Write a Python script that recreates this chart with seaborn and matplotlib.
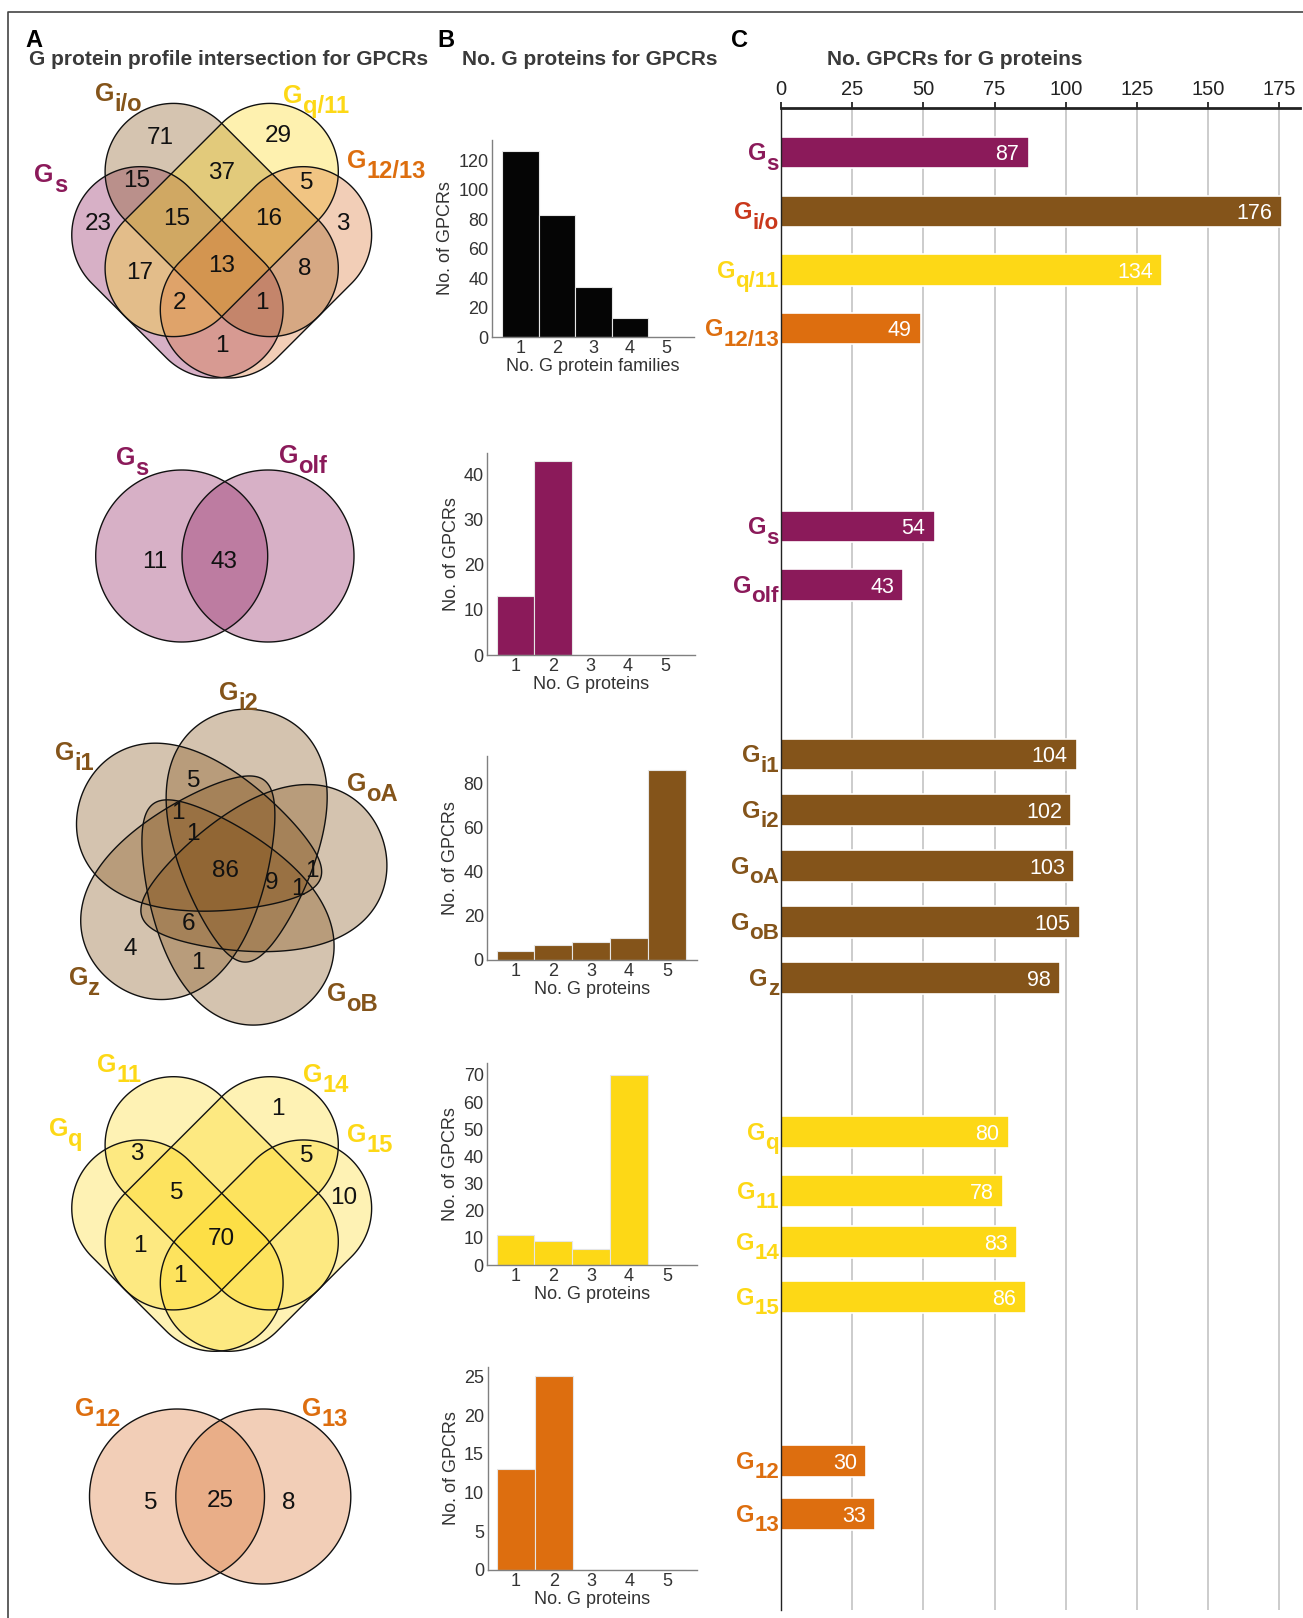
import numpy as np
import pandas as pd
import matplotlib
matplotlib.use("Agg")
import matplotlib.pyplot as plt
from matplotlib.patches import Polygon
from matplotlib.lines import Line2D
from matplotlib.font_manager import FontProperties
from matplotlib.transforms import ScaledTranslation, blended_transform_factory
import seaborn as sns

sns.set_theme(style="white")
plt.rcParams["font.family"] = ["Liberation Sans", "DejaVu Sans"]

W, H, DPI = 1303, 1618, 100
PT = DPI / 72.0  # pixels per point

# ---------------------------------------------------------------- colours
PURPLE = "#8B1A5A"
BROWN = "#84541A"
YELLOW = "#FDD816"
ORANGE = "#DD6E0F"
RED = "#C9381C"
VENN_ORANGE = "#D9722E"
DARK = "#333333"

# ---------------------------------------------------------------- data
# Panel A – counts per Venn region (None = empty region)
# four-set order: B only, C only, AB, BC, CD, A only, ABC, BCD, D only, AC, ABCD, BD, ACD, ABD, AD
FAM_SUBS = ["s", "i/o", "q/11", "12/13"]
FAM_COUNTS = [71, 29, 15, 37, 5, 23, 15, 16, 3, 17, 13, 8, 2, 1, 1]
GQ_SUBS = ["q", "11", "14", "15"]
GQ_COUNTS = [None, 1, 3, None, 5, None, 5, None, 10, 1, 70, None, 1, None, None]
GS_SUBS = ["s", "olf"]
GS_COUNTS = [11, 43]
GI_SUBS = ["i1", "i2", "oA", "oB", "z"]
GI_COUNTS = [5, 1, 1, 86, 9, 1, 1, 6, 4, 1]
G12_SUBS = ["12", "13"]
G12_COUNTS = [5, 25, 8]

# Panel B – number of GPCRs by number of coupled G proteins
N_SHARED = ["1", "2", "3", "4", "5"]
HIST_FAMILY = [126, 83, 34, 13, 0]
HIST_GS = [13, 43, 0, 0, 0]
HIST_GI = [4, 7, 8, 10, 86]
HIST_GQ = [11, 9, 6, 70, 0]
HIST_G12 = [13, 25, 0, 0, 0]

# Panel C – number of GPCRs per G protein
C_SUBS = ["s", "i/o", "q/11", "12/13", "s", "olf", "i1", "i2", "oA", "oB", "z",
          "q", "11", "14", "15", "12", "13"]
C_COUNTS = [87, 176, 134, 49, 54, 43, 104, 102, 103, 105, 98, 80, 78, 83, 86, 30, 33]
C_BAR_COLORS = [PURPLE, BROWN, YELLOW, ORANGE, PURPLE, PURPLE] + [BROWN] * 5 + [YELLOW] * 4 + [ORANGE] * 2
C_LABEL_COLORS = [PURPLE, RED, YELLOW, ORANGE, PURPLE, PURPLE] + [BROWN] * 5 + [YELLOW] * 4 + [ORANGE] * 2

# ---------------------------------------------------------------- layout
C_ROWS = [152.5, 211.5, 270, 328.5, 526.5, 585, 754.5, 810, 866, 922, 978,
          1131.8, 1191.2, 1242, 1296.9, 1460.8, 1514.1]
C_BAR_H = 31.5

FOUR_CENTRES = [(221.7, 220.0), (221.7, 1193.3)]
LATTICE = 48.3
CAPSULE_ENDS = [((-1.69, 0.31), (-0.143, 1.857)),
                ((-1.0, -1.0), (1.0, 1.0)),
                ((1.0, -1.0), (-1.0, 1.0)),
                ((1.69, 0.31), (0.143, 1.857))]
FOUR_SPOTS = [(-61.7, -85), (56.6, -86.7), (-85, -41.7), (0, -50), (85, -40),
              (-123.4, 1.7), (-45, -3.3), (46.6, -3.3), (121.6, 1.7), (-81.7, 50),
              (0, 43.3), (83.3, 46.7), (-41.7, 80), (40, 80), (0, 123.3)]
FAM_LABEL_POS = [(50.8, 178), (119, 97.5), (316, 99), (386, 164)]
GQ_LABEL_POS = [(65.8, 1131.7), (119.2, 1068.3), (325.8, 1078.3), (370, 1138.3)]

# five-set diagram: egg-shaped sets arranged with five-fold symmetry
FIVE_CENTRE = (225.0, 868.0)
EGG_FAT_DIST, EGG_FAT_R = 80.8, 81.0
EGG_NARROW_DIST, EGG_NARROW_R = 72.0, 25.0
EGG_FIRST_ANGLE, EGG_TWIST = 146.4, 148.0
EGG_B, EGG_C = 76.0, 28.0
GI_SPOTS = [(193.3, 778.3), (178.3, 810), (193.3, 831.7), (225, 868.3), (271.7, 880),
            (311.7, 868.3), (298.3, 886.7), (188.3, 921.7), (130, 946.7), (198.3, 960)]
GI_LABEL_POS = [(74.2, 755.8), (238.3, 695.8), (372.5, 786.7), (352.5, 997.5), (84.2, 980.8)]

GS_CIRCLES = [((181.7, 556), 86), ((268, 556), 86)]
GS_SPOTS = [(155, 559), (224, 559)]
GS_LABEL_POS = [(132.5, 461), (303, 459)]
G12_CIRCLES = [((177, 1496.5), 87.5), ((263.3, 1496.5), 87.5)]
G12_SPOTS = [(150.6, 1500), (220, 1498), (289, 1500)]
G12_LABEL_POS = [(97.5, 1412), (325, 1412)]

HIST_RECTS = [(492, 140, 694, 337), (487.3, 453.3, 695, 655), (487.3, 756, 696.7, 960),
              (487.3, 1062.7, 696.7, 1265), (487.5, 1367, 697, 1570)]

VENN_LABEL_SIZE = 18
AXIS_LABEL_SIZE = 17

fig = plt.figure(figsize=(W / DPI, H / DPI), dpi=DPI, facecolor="white")
renderer = fig.canvas.get_renderer()


def px_axes(left, top, right, bottom):
    return fig.add_axes([left / W, 1 - bottom / H, (right - left) / W, (bottom - top) / H])


ov = fig.add_axes([0, 0, 1, 1])
ov.set_xlim(0, W)
ov.set_ylim(H, 0)
ov.axis("off")

SUB_SCALE = 0.95
SUB_DROP = 0.40


def g_label(ax, x, y, sub, color, size, transform=None, ha="center"):
    """Bold 'G' followed by a lowered, nearly full-size subscript."""
    if transform is None:
        transform = ax.transData
    pg = FontProperties(family="Liberation Sans", weight="bold", size=size)
    ps = FontProperties(family="Liberation Sans", weight="bold", size=size * SUB_SCALE)
    wg = renderer.get_text_width_height_descent("G", pg, ismath=False)[0]
    ws = renderer.get_text_width_height_descent(sub, ps, ismath=False)[0]
    total = wg + ws
    x0 = -total / 2 if ha == "center" else -total
    cap = 0.716 * size * PT
    drop = SUB_DROP * size * PT
    base = -(cap - drop) / 2

    def shifted(dx, dy):
        return transform + ScaledTranslation(dx / DPI, dy / DPI, fig.dpi_scale_trans)

    ax.text(x, y, "G", fontproperties=pg, color=color, ha="left", va="baseline",
            transform=shifted(x0, base))
    ax.text(x, y, sub, fontproperties=ps, color=color, ha="left", va="baseline",
            transform=shifted(x0 + wg, base - drop))


def count_text(ax, x, y, value, size=17.5, color="#111111", ha="center"):
    if value is None:
        return
    ax.text(x, y + 0.358 * size * PT, str(value), ha=ha, va="baseline",
            fontsize=size, color=color)


def capsule(p1, p2, r, n=90):
    p1, p2 = np.asarray(p1, float), np.asarray(p2, float)
    d = p2 - p1
    th = np.arctan2(d[1], d[0])
    t1 = np.linspace(th + np.pi / 2, th + 3 * np.pi / 2, n)
    t2 = np.linspace(th - np.pi / 2, th + np.pi / 2, n)
    a1 = p1 + r * np.c_[np.cos(t1), np.sin(t1)]
    a2 = p2 + r * np.c_[np.cos(t2), np.sin(t2)]
    return np.vstack([a1, a2])


def egg(k, n=360):
    """Egg outline: broad lobe outside, narrow tip reaching across the centre."""
    cx, cy = FIVE_CENTRE
    phi = np.radians(EGG_FIRST_ANGLE - 72.0 * k)
    psi = phi - np.radians(EGG_TWIST)
    fat = np.array([cx + EGG_FAT_DIST * np.cos(phi), cy - EGG_FAT_DIST * np.sin(phi)])
    nar = np.array([cx + EGG_NARROW_DIST * np.cos(psi), cy - EGG_NARROW_DIST * np.sin(psi)])
    e = (fat - nar) / np.linalg.norm(fat - nar)
    tip_f = fat + EGG_FAT_R * e
    tip_n = nar - EGG_NARROW_R * e
    mid = (tip_f + tip_n) / 2
    half = np.linalg.norm(tip_f - tip_n) / 2
    nrm = np.array([-e[1], e[0]])
    t = np.linspace(0, 2 * np.pi, n)
    along = -half * np.cos(t)
    across = (EGG_B - EGG_C * np.cos(t)) * np.sin(t)
    return mid + np.outer(along, e) + np.outer(across, nrm)


def draw_shapes(shapes, colors, alpha=0.34):
    for pts, c in zip(shapes, colors):
        ov.add_patch(Polygon(pts, closed=True, facecolor=c, alpha=alpha, edgecolor="none"))
    for pts in shapes:
        ov.add_patch(Polygon(pts, closed=True, fill=False, edgecolor="#111111", lw=1.0))


def circle_pts(c, r, n=240):
    t = np.linspace(0, 2 * np.pi, n)
    return np.c_[c[0] + r * np.cos(t), c[1] + r * np.sin(t)]


# ---------------------------------------------------------------- frame & headings
ov.add_line(Line2D([8, 8, W], [H, 12, 12], color="#444444", lw=1.2))
for letter, x in [("A", 33.5), ("B", 445.5), ("C", 740)]:
    ov.text(x, 38.5 + 0.358 * 17 * PT, letter, fontsize=17, fontweight="bold",
            color="black", ha="center", va="baseline")
for title, x in [("G protein profile intersection for GPCRs", 228.3),
                 ("No. G proteins for GPCRs", 590),
                 ("No. GPCRs for G proteins", 955)]:
    ov.text(x, 58 + 0.358 * 15 * PT, title, fontsize=15, fontweight="bold",
            color="#3a3a3a", ha="center", va="baseline")

# ---------------------------------------------------------------- panel A
fam_fill = [PURPLE, BROWN, YELLOW, VENN_ORANGE]
fam_text = [PURPLE, BROWN, YELLOW, ORANGE]
for (cx, cy), counts, subs, fills, tcols, lpos in [
        (FOUR_CENTRES[0], FAM_COUNTS, FAM_SUBS, fam_fill, fam_text, FAM_LABEL_POS),
        (FOUR_CENTRES[1], GQ_COUNTS, GQ_SUBS, [YELLOW] * 4, [YELLOW] * 4, GQ_LABEL_POS)]:
    shapes = []
    for e1, e2 in CAPSULE_ENDS:
        p1 = (cx + e1[0] * LATTICE, cy + e1[1] * LATTICE)
        p2 = (cx + e2[0] * LATTICE, cy + e2[1] * LATTICE)
        shapes.append(capsule(p1, p2, LATTICE * np.sqrt(2)))
    draw_shapes(shapes, fills, alpha=0.34 if fills[0] != YELLOW else 0.32)
    for (dx, dy), v in zip(FOUR_SPOTS, counts):
        count_text(ov, cx + dx, cy + dy, v)
    for (lx, ly), s, c in zip(lpos, subs, tcols):
        g_label(ov, lx, ly, s, c, VENN_LABEL_SIZE)

# two-set diagrams
for circles, counts, spots, subs, lpos, fill, tcol in [
        (GS_CIRCLES, GS_COUNTS, GS_SPOTS, GS_SUBS, GS_LABEL_POS, PURPLE, PURPLE),
        (G12_CIRCLES, G12_COUNTS, G12_SPOTS, G12_SUBS, G12_LABEL_POS, VENN_ORANGE, ORANGE)]:
    draw_shapes([circle_pts(c, r) for c, r in circles], [fill, fill])
    for (x, y), v in zip(spots, counts):
        count_text(ov, x, y, v)
    for (lx, ly), s in zip(lpos, subs):
        g_label(ov, lx, ly, s, tcol, VENN_LABEL_SIZE)

# five-set diagram
draw_shapes([egg(k) for k in range(5)], [BROWN] * 5, alpha=0.35)
for (x, y), v in zip(GI_SPOTS, GI_COUNTS):
    count_text(ov, x, y, v)
for (lx, ly), s in zip(GI_LABEL_POS, GI_SUBS):
    g_label(ov, lx, ly, s, BROWN, VENN_LABEL_SIZE)

# ---------------------------------------------------------------- panel B
hist_specs = [
    (HIST_FAMILY, "#050505", 133.6, range(0, 121, 20), "No. G protein families", (-0.774, 4.76)),
    (HIST_GS, PURPLE, 44.8, range(0, 41, 10), "No. G proteins", (-0.748, 4.79)),
    (HIST_GI, BROWN, 92.3, range(0, 81, 20), "No. G proteins", (-0.748, 4.79)),
    (HIST_GQ, YELLOW, 74.5, range(0, 71, 10), "No. G proteins", (-0.748, 4.79)),
    (HIST_G12, ORANGE, 26.2, range(0, 26, 5), "No. G proteins", (-0.748, 4.79)),
]
for rect, (vals, col, ymax, yt, xlab, xl) in zip(HIST_RECTS, hist_specs):
    ax = px_axes(*rect)
    df = pd.DataFrame({"n": N_SHARED, "count": vals})
    sns.barplot(data=df, x="n", y="count", color=col, saturation=1, width=1.0,
                errorbar=None, edgecolor="#e6e6e6", linewidth=0.8, ax=ax)
    ax.set_xlim(*xl)
    ax.set_ylim(0, ymax)
    ax.set_yticks(list(yt))
    sns.despine(ax=ax)
    for s in ("left", "bottom"):
        ax.spines[s].set_color("#808080")
        ax.spines[s].set_linewidth(1.0)
    ax.tick_params(length=0, labelsize=13, colors=DARK)
    ax.tick_params(axis="y", pad=2.5)
    ax.tick_params(axis="x", pad=2.5)
    ax.set_xlabel(xlab, fontsize=13, color=DARK, labelpad=0.5)
    ax.set_ylabel("No. of GPCRs", fontsize=13, color=DARK, labelpad=3)
    ax.patch.set_alpha(0)

# ---------------------------------------------------------------- panel C
axC = px_axes(781, 108, 1300, 1610)
dfC = pd.DataFrame({"bar": [str(i) for i in range(len(C_COUNTS))],
                    "count": C_COUNTS, "row": C_ROWS})
min_gap = np.min(np.diff(np.sort(C_ROWS)))
sns.barplot(data=dfC, x="count", y="row", hue="bar", palette=C_BAR_COLORS,
            orient="h", native_scale=True, dodge=False, width=C_BAR_H / min_gap,
            saturation=1, errorbar=None, legend=False, edgecolor="white",
            linewidth=1.2, ax=axC)
axC.set_xlim(0, (1300 - 781) / 2.847)
axC.set_ylim(1610, 108)
axC.xaxis.tick_top()
axC.set_xticks(range(0, 176, 25))
axC.set_yticks([])
axC.set_xlabel("")
axC.set_ylabel("")
axC.grid(axis="x", color="#c8c8c8", lw=1.3)
axC.set_axisbelow(True)
for s in ("right", "bottom"):
    axC.spines[s].set_visible(False)
axC.spines["top"].set_linewidth(2.0)
axC.spines["top"].set_color("#222222")
axC.spines["left"].set_linewidth(1.0)
axC.spines["left"].set_color("#222222")
axC.tick_params(axis="x", top=True, bottom=False, direction="out", length=4.5,
                width=1.3, color="#222222", labelsize=14.5, labelcolor="#222222", pad=2)
axC.patch.set_alpha(0)

for v, row in zip(C_COUNTS, C_ROWS):
    count_text(axC, v - 3.3, row, v, size=15.5, color="white", ha="right")

lab_tr = blended_transform_factory(axC.transAxes, axC.transData)
for sub, row, col in zip(C_SUBS, C_ROWS, C_LABEL_COLORS):
    g_label(axC, 0, row + 4, sub, col, AXIS_LABEL_SIZE,
            transform=lab_tr + ScaledTranslation(-2 / DPI, 0, fig.dpi_scale_trans), ha="right")

fig.savefig("out.png", dpi=DPI, facecolor="white")
